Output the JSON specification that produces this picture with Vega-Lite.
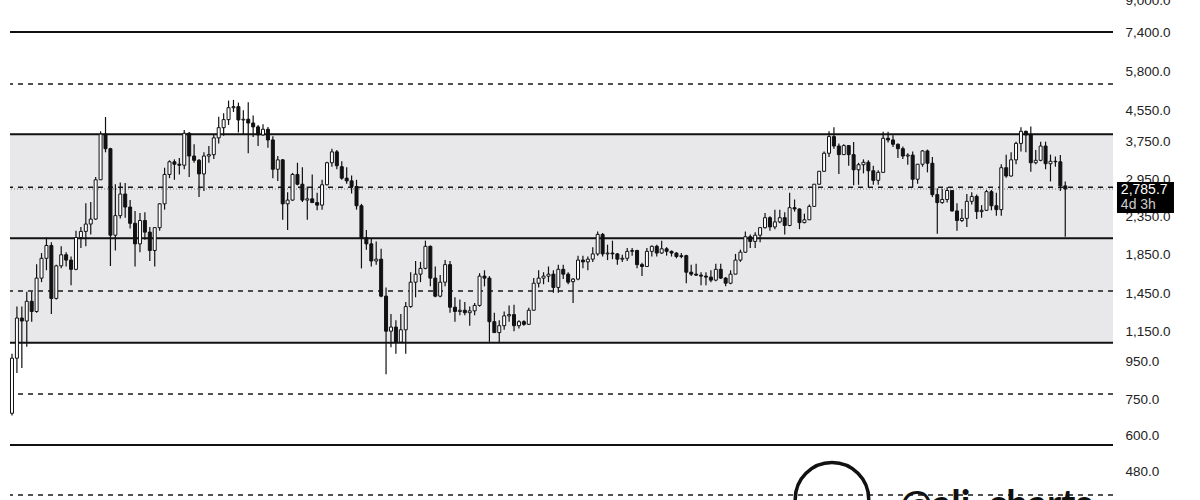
{
  "$schema": "https://vega.github.io/schema/vega-lite/v6.json",
  "width": 1103,
  "height": 500,
  "autosize": {"type": "none"},
  "padding": {"left": 10, "right": 87, "top": 0, "bottom": 0},
  "background": "#ffffff",
  "config": {"view": {"stroke": null}, "scale": {"continuousPadding": 0}},
  "datasets": {
    "candles": [
      {"week":0,"open":690,"high":1000,"low":680,"close":972},
      {"week":1,"open":972,"high":1340,"low":886,"close":1248},
      {"week":2,"open":1248,"high":1340,"low":914,"close":1225},
      {"week":3,"open":1225,"high":1470,"low":1043,"close":1385},
      {"week":4,"open":1385,"high":1470,"low":1220,"close":1300},
      {"week":5,"open":1300,"high":1745,"low":1290,"close":1600},
      {"week":6,"open":1600,"high":1870,"low":1560,"close":1810},
      {"week":7,"open":1810,"high":2060,"low":1680,"close":1960},
      {"week":8,"open":1960,"high":2000,"low":1280,"close":1410},
      {"week":9,"open":1410,"high":1740,"low":1400,"close":1727},
      {"week":10,"open":1727,"high":1950,"low":1700,"close":1850},
      {"week":11,"open":1850,"high":1880,"low":1720,"close":1790},
      {"week":12,"open":1790,"high":1830,"low":1530,"close":1690},
      {"week":13,"open":1690,"high":2150,"low":1680,"close":2060},
      {"week":14,"open":2060,"high":2200,"low":1930,"close":2140},
      {"week":15,"open":2140,"high":2550,"low":1950,"close":2240},
      {"week":16,"open":2240,"high":2570,"low":2100,"close":2310},
      {"week":17,"open":2310,"high":3000,"low":2300,"close":2950},
      {"week":18,"open":2950,"high":3990,"low":2950,"close":3920},
      {"week":19,"open":3920,"high":4360,"low":3500,"close":3580},
      {"week":20,"open":3580,"high":3600,"low":1725,"close":2090},
      {"week":21,"open":2090,"high":2870,"low":1900,"close":2360},
      {"week":22,"open":2360,"high":2900,"low":2320,"close":2700},
      {"week":23,"open":2700,"high":2890,"low":2330,"close":2490},
      {"week":24,"open":2490,"high":2600,"low":2180,"close":2250},
      {"week":25,"open":2250,"high":2430,"low":1720,"close":1980},
      {"week":26,"open":1980,"high":2400,"low":1880,"close":2290},
      {"week":27,"open":2290,"high":2410,"low":2030,"close":2130},
      {"week":28,"open":2130,"high":2200,"low":1780,"close":1900},
      {"week":29,"open":1900,"high":2200,"low":1720,"close":2190},
      {"week":30,"open":2190,"high":2550,"low":2150,"close":2540},
      {"week":31,"open":2540,"high":3180,"low":2450,"close":3050},
      {"week":32,"open":3050,"high":3330,"low":2980,"close":3300},
      {"week":33,"open":3300,"high":3350,"low":2950,"close":3250},
      {"week":34,"open":3250,"high":3380,"low":3050,"close":3230},
      {"week":35,"open":3230,"high":4020,"low":3150,"close":3940},
      {"week":36,"open":3940,"high":3970,"low":3000,"close":3420},
      {"week":37,"open":3420,"high":3680,"low":3280,"close":3330},
      {"week":38,"open":3330,"high":3360,"low":2650,"close":3060},
      {"week":39,"open":3060,"high":3500,"low":2750,"close":3420},
      {"week":40,"open":3420,"high":3640,"low":3280,"close":3450},
      {"week":41,"open":3450,"high":3900,"low":3360,"close":3830},
      {"week":42,"open":3830,"high":4370,"low":3700,"close":4080},
      {"week":43,"open":4080,"high":4460,"low":3880,"close":4290},
      {"week":44,"open":4290,"high":4830,"low":4150,"close":4620},
      {"week":45,"open":4620,"high":4850,"low":4500,"close":4650},
      {"week":46,"open":4650,"high":4770,"low":3960,"close":4280},
      {"week":47,"open":4280,"high":4550,"low":3920,"close":4300},
      {"week":48,"open":4300,"high":4780,"low":3480,"close":4200},
      {"week":49,"open":4200,"high":4400,"low":3850,"close":4100},
      {"week":50,"open":4100,"high":4150,"low":3640,"close":3900},
      {"week":51,"open":3900,"high":4170,"low":3880,"close":4040},
      {"week":52,"open":4040,"high":4100,"low":3600,"close":3780},
      {"week":53,"open":3780,"high":3870,"low":2980,"close":3150},
      {"week":54,"open":3150,"high":3420,"low":2930,"close":3340},
      {"week":55,"open":3340,"high":3360,"low":2300,"close":2540},
      {"week":56,"open":2540,"high":2730,"low":2160,"close":2600},
      {"week":57,"open":2600,"high":3080,"low":2590,"close":3050},
      {"week":58,"open":3050,"high":3280,"low":2850,"close":2870},
      {"week":59,"open":2870,"high":3190,"low":2570,"close":2600},
      {"week":60,"open":2600,"high":2830,"low":2300,"close":2620},
      {"week":61,"open":2620,"high":3050,"low":2580,"close":2560},
      {"week":62,"open":2560,"high":2720,"low":2440,"close":2520},
      {"week":63,"open":2520,"high":2950,"low":2450,"close":2860},
      {"week":64,"open":2860,"high":3300,"low":2850,"close":3280},
      {"week":65,"open":3280,"high":3580,"low":3200,"close":3510},
      {"week":66,"open":3510,"high":3550,"low":3150,"close":3220},
      {"week":67,"open":3200,"high":3310,"low":2950,"close":2980},
      {"week":68,"open":2980,"high":3190,"low":2880,"close":2930},
      {"week":69,"open":2930,"high":3030,"low":2710,"close":2830},
      {"week":70,"open":2830,"high":2950,"low":2450,"close":2510},
      {"week":71,"open":2510,"high":2540,"low":1700,"close":2060},
      {"week":72,"open":2060,"high":2160,"low":1910,"close":1980},
      {"week":73,"open":1980,"high":2050,"low":1720,"close":1780},
      {"week":74,"open":1780,"high":2010,"low":1740,"close":1800},
      {"week":75,"open":1800,"high":1920,"low":1420,"close":1430},
      {"week":76,"open":1430,"high":1510,"low":880,"close":1150},
      {"week":77,"open":1150,"high":1280,"low":1040,"close":1180},
      {"week":78,"open":1180,"high":1230,"low":1000,"close":1075},
      {"week":79,"open":1075,"high":1280,"low":1070,"close":1160},
      {"week":80,"open":1160,"high":1380,"low":1000,"close":1340},
      {"week":81,"open":1340,"high":1660,"low":1330,"close":1560},
      {"week":82,"open":1560,"high":1780,"low":1420,"close":1640},
      {"week":83,"open":1640,"high":1770,"low":1560,"close":1700},
      {"week":84,"open":1700,"high":2020,"low":1690,"close":1950},
      {"week":85,"open":1950,"high":1960,"low":1520,"close":1600},
      {"week":86,"open":1600,"high":1720,"low":1420,"close":1430},
      {"week":87,"open":1430,"high":1630,"low":1420,"close":1560},
      {"week":88,"open":1560,"high":1790,"low":1520,"close":1740},
      {"week":89,"open":1740,"high":1780,"low":1290,"close":1335},
      {"week":90,"open":1335,"high":1420,"low":1220,"close":1300},
      {"week":91,"open":1300,"high":1400,"low":1270,"close":1310},
      {"week":92,"open":1310,"high":1380,"low":1270,"close":1290},
      {"week":93,"open":1290,"high":1340,"low":1190,"close":1305},
      {"week":94,"open":1305,"high":1370,"low":1270,"close":1350},
      {"week":95,"open":1350,"high":1650,"low":1340,"close":1620},
      {"week":96,"open":1620,"high":1680,"low":1520,"close":1600},
      {"week":97,"open":1600,"high":1620,"low":1076,"close":1220},
      {"week":98,"open":1220,"high":1290,"low":1170,"close":1140},
      {"week":99,"open":1140,"high":1230,"low":1075,"close":1190},
      {"week":100,"open":1190,"high":1300,"low":1160,"close":1265},
      {"week":101,"open":1265,"high":1350,"low":1220,"close":1275},
      {"week":102,"open":1275,"high":1355,"low":1150,"close":1190},
      {"week":103,"open":1190,"high":1230,"low":1170,"close":1220},
      {"week":104,"open":1220,"high":1230,"low":1190,"close":1200},
      {"week":105,"open":1200,"high":1330,"low":1195,"close":1310},
      {"week":106,"open":1310,"high":1600,"low":1310,"close":1550},
      {"week":107,"open":1550,"high":1680,"low":1510,"close":1600},
      {"week":108,"open":1600,"high":1660,"low":1540,"close":1620},
      {"week":109,"open":1620,"high":1720,"low":1560,"close":1640},
      {"week":110,"open":1640,"high":1680,"low":1460,"close":1510},
      {"week":111,"open":1510,"high":1740,"low":1460,"close":1690},
      {"week":112,"open":1690,"high":1740,"low":1590,"close":1640},
      {"week":113,"open":1640,"high":1660,"low":1540,"close":1560},
      {"week":114,"open":1565,"high":1600,"low":1370,"close":1590},
      {"week":115,"open":1590,"high":1840,"low":1580,"close":1790},
      {"week":116,"open":1790,"high":1840,"low":1700,"close":1770},
      {"week":117,"open":1770,"high":1830,"low":1680,"close":1800},
      {"week":118,"open":1800,"high":1940,"low":1770,"close":1860},
      {"week":119,"open":1860,"high":2140,"low":1840,"close":2100},
      {"week":120,"open":2100,"high":2120,"low":1830,"close":1860},
      {"week":121,"open":1860,"high":1970,"low":1790,"close":1870},
      {"week":122,"open":1870,"high":2020,"low":1800,"close":1860},
      {"week":123,"open":1860,"high":1870,"low":1740,"close":1800},
      {"week":124,"open":1800,"high":1850,"low":1770,"close":1810},
      {"week":125,"open":1810,"high":1930,"low":1780,"close":1890},
      {"week":126,"open":1890,"high":1930,"low":1840,"close":1900},
      {"week":127,"open":1900,"high":1910,"low":1700,"close":1740},
      {"week":128,"open":1740,"high":1760,"low":1620,"close":1720},
      {"week":129,"open":1720,"high":1930,"low":1720,"close":1890},
      {"week":130,"open":1890,"high":1960,"low":1830,"close":1950},
      {"week":131,"open":1950,"high":1970,"low":1830,"close":1870},
      {"week":132,"open":1870,"high":2020,"low":1860,"close":1920},
      {"week":133,"open":1920,"high":1940,"low":1840,"close":1890},
      {"week":134,"open":1890,"high":1900,"low":1830,"close":1870},
      {"week":135,"open":1870,"high":1880,"low":1810,"close":1830},
      {"week":136,"open":1830,"high":1870,"low":1810,"close":1840},
      {"week":137,"open":1840,"high":1850,"low":1550,"close":1660},
      {"week":138,"open":1660,"high":1740,"low":1620,"close":1640},
      {"week":139,"open":1640,"high":1750,"low":1620,"close":1630},
      {"week":140,"open":1630,"high":1660,"low":1530,"close":1620},
      {"week":141,"open":1620,"high":1660,"low":1530,"close":1610},
      {"week":142,"open":1610,"high":1680,"low":1560,"close":1580},
      {"week":143,"open":1580,"high":1750,"low":1570,"close":1690},
      {"week":144,"open":1690,"high":1750,"low":1590,"close":1600},
      {"week":145,"open":1600,"high":1610,"low":1520,"close":1550},
      {"week":146,"open":1550,"high":1680,"low":1540,"close":1640},
      {"week":147,"open":1640,"high":1860,"low":1640,"close":1790},
      {"week":148,"open":1790,"high":1910,"low":1770,"close":1880},
      {"week":149,"open":1880,"high":2140,"low":1870,"close":2070},
      {"week":150,"open":2070,"high":2100,"low":1930,"close":2010},
      {"week":151,"open":2010,"high":2130,"low":1930,"close":2090},
      {"week":152,"open":2090,"high":2200,"low":2000,"close":2190},
      {"week":153,"open":2190,"high":2400,"low":2180,"close":2330},
      {"week":154,"open":2330,"high":2350,"low":2150,"close":2200},
      {"week":155,"open":2200,"high":2450,"low":2170,"close":2270},
      {"week":156,"open":2270,"high":2450,"low":2250,"close":2330},
      {"week":157,"open":2330,"high":2410,"low":2100,"close":2220},
      {"week":158,"open":2220,"high":2720,"low":2210,"close":2480},
      {"week":159,"open":2480,"high":2610,"low":2420,"close":2460},
      {"week":160,"open":2460,"high":2470,"low":2170,"close":2260},
      {"week":161,"open":2260,"high":2390,"low":2250,"close":2300},
      {"week":162,"open":2300,"high":2530,"low":2300,"close":2500},
      {"week":163,"open":2500,"high":2870,"low":2500,"close":2870},
      {"week":164,"open":2870,"high":3030,"low":2860,"close":3110},
      {"week":165,"open":3110,"high":3520,"low":3100,"close":3480},
      {"week":166,"open":3480,"high":3990,"low":3400,"close":3860},
      {"week":167,"open":3860,"high":4090,"low":3580,"close":3640},
      {"week":168,"open":3640,"high":3700,"low":3060,"close":3450},
      {"week":169,"open":3450,"high":3680,"low":3440,"close":3650},
      {"week":170,"open":3650,"high":3660,"low":3220,"close":3450},
      {"week":171,"open":3450,"high":3730,"low":2850,"close":3140},
      {"week":172,"open":3140,"high":3280,"low":2860,"close":3240},
      {"week":173,"open":3240,"high":3350,"low":3070,"close":3290},
      {"week":174,"open":3290,"high":3330,"low":2810,"close":3120},
      {"week":175,"open":3120,"high":3220,"low":2860,"close":2940},
      {"week":176,"open":2940,"high":3130,"low":2860,"close":3090},
      {"week":177,"open":3090,"high":3980,"low":3080,"close":3820},
      {"week":178,"open":3820,"high":3980,"low":3720,"close":3780},
      {"week":179,"open":3780,"high":3890,"low":3620,"close":3680},
      {"week":180,"open":3680,"high":3700,"low":3380,"close":3580},
      {"week":181,"open":3580,"high":3630,"low":3360,"close":3420},
      {"week":182,"open":3420,"high":3480,"low":3240,"close":3440},
      {"week":183,"open":3440,"high":3520,"low":2810,"close":2960},
      {"week":184,"open":2960,"high":3250,"low":2880,"close":3250},
      {"week":185,"open":3250,"high":3550,"low":3200,"close":3530},
      {"week":186,"open":3530,"high":3560,"low":3090,"close":3270},
      {"week":187,"open":3270,"high":3400,"low":2650,"close":2690},
      {"week":188,"open":2690,"high":2800,"low":2110,"close":2560},
      {"week":189,"open":2560,"high":2790,"low":2540,"close":2610},
      {"week":190,"open":2610,"high":2820,"low":2560,"close":2760},
      {"week":191,"open":2760,"high":2770,"low":2420,"close":2430},
      {"week":192,"open":2430,"high":2550,"low":2150,"close":2290},
      {"week":193,"open":2290,"high":2460,"low":2270,"close":2320},
      {"week":194,"open":2320,"high":2700,"low":2200,"close":2580},
      {"week":195,"open":2580,"high":2730,"low":2530,"close":2660},
      {"week":196,"open":2660,"high":2690,"low":2310,"close":2420},
      {"week":197,"open":2420,"high":2520,"low":2330,"close":2440},
      {"week":198,"open":2440,"high":2770,"low":2430,"close":2740},
      {"week":199,"open":2740,"high":2770,"low":2440,"close":2510},
      {"week":200,"open":2510,"high":2720,"low":2360,"close":2450},
      {"week":201,"open":2450,"high":3250,"low":2360,"close":3180},
      {"week":202,"open":3180,"high":3450,"low":2990,"close":3020},
      {"week":203,"open":3020,"high":3500,"low":3010,"close":3340},
      {"week":204,"open":3340,"high":3740,"low":3250,"close":3700},
      {"week":205,"open":3700,"high":4090,"low":3520,"close":3990},
      {"week":206,"open":3990,"high":4000,"low":3500,"close":3900},
      {"week":207,"open":3900,"high":4110,"low":3100,"close":3280},
      {"week":208,"open":3280,"high":3550,"low":3250,"close":3330},
      {"week":209,"open":3330,"high":3740,"low":3310,"close":3640},
      {"week":210,"open":3640,"high":3740,"low":3150,"close":3260},
      {"week":211,"open":3260,"high":3450,"low":2920,"close":3310},
      {"week":212,"open":3310,"high":3410,"low":3200,"close":3300},
      {"week":213,"open":3300,"high":3440,"low":2750,"close":2840},
      {"week":214,"open":2840,"high":2920,"low":2070,"close":2785.7}
    ],
    "solidLevels": [{"level":7400},{"level":3914},{"level":2049},{"level":1070},{"level":566}],
    "dashedLevels": [{"level":5355},{"level":2815},{"level":1476},{"level":778},{"level":415}],
    "last": [{"price":2785.7,"label":"2,785.7","countdown":"4d 3h"}],
    "brand": [{"handle":"@ali_charts"}]
  },
  "encoding": {
    "x": {"type": "quantitative", "scale": {"domain": [-0.406, 223.7], "nice": false, "zero": false, "padding": 0}, "axis": null}
  },
  "layer": [
    {
      "data": {"values": [{}]},
      "mark": {"type": "rect", "color": "#e8e8eb"},
      "encoding": {
        "y": {"datum": 1070, "type": "quantitative",
          "scale": {"type": "log", "domain": [402.2, 9031], "nice": false, "zero": false, "padding": 0},
          "axis": {
            "orient": "right", "values": [480, 600, 750, 950, 1150, 1450, 1850, 2350, 2950, 3750, 4550, 5800, 7400, 9000],
            "format": ",.1f", "grid": false, "domain": false, "ticks": false, "labelPadding": 12,
            "labelFont": "Liberation Sans", "labelFontSize": 13.5, "labelColor": "#222222",
            "labelOverlap": false, "labelFlush": false, "labelBound": false, "title": null}},
        "y2": {"datum": 3914}
      }
    },
    {
      "data": {"name": "last"},
      "mark": {"type": "rule", "color": "#777777", "strokeWidth": 1, "strokeDash": [1, 2]},
      "encoding": {"y": {"field": "price", "type": "quantitative"}}
    },
    {
      "data": {"name": "dashedLevels"},
      "mark": {"type": "rule", "color": "#1a1a1a", "strokeWidth": 1.5, "strokeDash": [5, 5]},
      "encoding": {"y": {"field": "level", "type": "quantitative"}}
    },
    {
      "data": {"name": "solidLevels"},
      "mark": {"type": "rule", "color": "#111111", "strokeWidth": 2},
      "encoding": {"y": {"field": "level", "type": "quantitative"}}
    },
    {
      "data": {"name": "candles"},
      "mark": {"type": "rule", "color": "#111111", "strokeWidth": 1.2},
      "encoding": {
        "x": {"field": "week", "type": "quantitative"},
        "y": {"field": "low", "type": "quantitative"},
        "y2": {"field": "high"}
      }
    },
    {
      "data": {"name": "candles"},
      "mark": {"type": "bar", "size": 3, "stroke": "#111111", "strokeWidth": 1},
      "encoding": {
        "x": {"field": "week", "type": "quantitative"},
        "y": {"field": "open", "type": "quantitative"},
        "y2": {"field": "close"},
        "fill": {"condition": {"test": "datum.close >= datum.open", "value": "#ffffff"}, "value": "#111111"}
      }
    },
    {
      "data": {"name": "last"},
      "mark": {"type": "point", "filled": true, "opacity": 1, "color": "#000000", "shape": "M-1,-0.544H1V0.544H-1Z", "size": 3249, "yOffset": 8.5},
      "encoding": {
        "x": {"datum": 230.3, "type": "quantitative"},
        "y": {"field": "price", "type": "quantitative"}
      }
    },
    {
      "data": {"name": "last"},
      "mark": {"type": "text", "align": "left", "baseline": "middle", "font": "Liberation Sans", "fontSize": 14, "color": "#ffffff", "dy": 1},
      "encoding": {
        "x": {"datum": 225.3, "type": "quantitative"},
        "y": {"field": "price", "type": "quantitative"},
        "text": {"field": "label"}
      }
    },
    {
      "data": {"name": "last"},
      "mark": {"type": "text", "align": "left", "baseline": "middle", "font": "Liberation Sans", "fontSize": 14, "color": "#cccccc", "dy": 15.5},
      "encoding": {
        "x": {"datum": 225.3, "type": "quantitative"},
        "y": {"field": "price", "type": "quantitative"},
        "text": {"field": "countdown"}
      }
    },
    {
      "data": {"name": "brand"},
      "mark": {"type": "point", "filled": false, "shape": "circle", "size": 5400, "stroke": "#111111", "strokeWidth": 3.5, "opacity": 1},
      "encoding": {
        "x": {"datum": 166.6, "type": "quantitative"},
        "y": {"datum": 404, "type": "quantitative"}
      }
    },
    {
      "data": {"name": "brand"},
      "mark": {"type": "text", "align": "left", "baseline": "alphabetic", "font": "Lato", "fontWeight": "bold", "fontSize": 38, "color": "#111111"},
      "encoding": {
        "x": {"datum": 180.4, "type": "quantitative"},
        "y": {"datum": 362, "type": "quantitative"},
        "text": {"field": "handle"}
      }
    }
  ]
}
